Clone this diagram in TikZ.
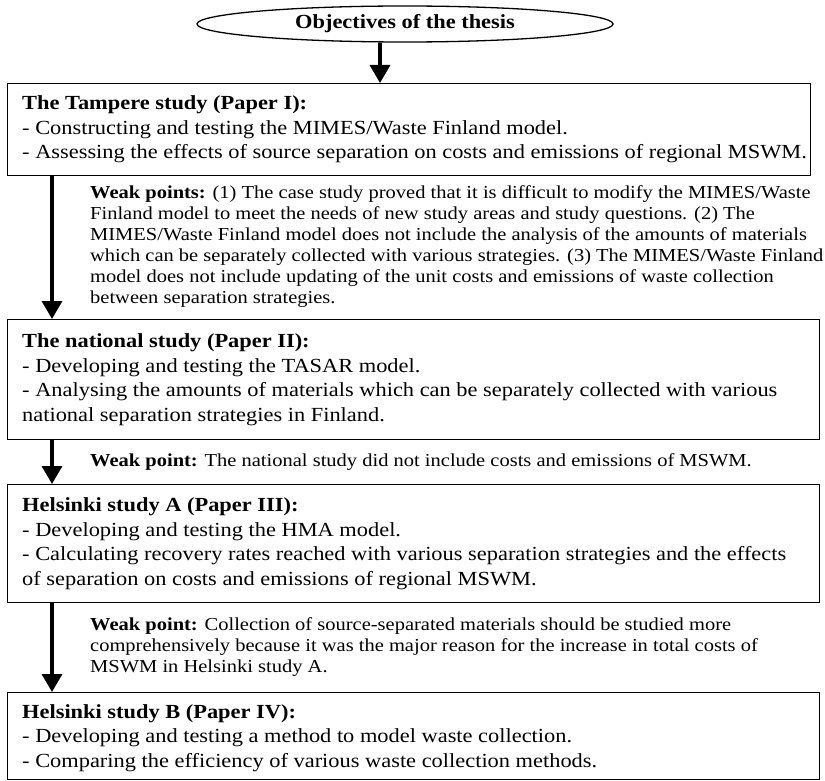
\documentclass[tikz,border=0pt]{standalone}
\usepackage{fontspec}
\setmainfont{Liberation Serif}[FakeStretch=1.12]
\usetikzlibrary{arrows.meta,shapes.geometric,calc}
\begin{document}
\begin{tikzpicture}[x=1pt,y=-1pt,
  box/.style={draw, line width=1.3pt, rectangle, anchor=north west, inner sep=0pt},
  boxtext/.style={anchor=west, align=left, inner sep=0pt, font=\fontsize{20.0}{24.5}\selectfont},
  weak/.style={anchor=west, align=left, inner sep=0pt, font=\fontsize{18.3}{21}\selectfont},
  arr/.style={line width=3.5pt, -{Triangle[width=20pt,length=18pt]}},
  goal/.style={draw, ellipse, line width=1.3pt, minimum width=416pt, minimum height=36pt, inner sep=0pt, font=\fontsize{20.0}{24}\selectfont\bfseries}]
\path[use as bounding box, fill=white] (0,0) rectangle (825,781);

\node[goal] (e) at (405,24) {Objectives of the thesis};

\node[box, minimum width=803pt, minimum height=92pt] (b1) at (7,83) {};
\node[box, minimum width=812pt, minimum height=120pt] (b2) at (7,319) {};
\node[box, minimum width=812pt, minimum height=118pt] (b3) at (7,484) {};
\node[box, minimum width=812pt, minimum height=87pt] (b4) at (7,692) {};

\node[boxtext] (t1) at ([xshift=15pt]b1.west) {\textbf{The Tampere study (Paper I):}\\
- Constructing and testing the MIMES/Waste Finland model.\\
- Assessing the effects of source separation on costs and emissions of regional MSWM.};

\node[boxtext] (t2) at ([xshift=15pt]b2.west) {\textbf{The national study (Paper II):}\\
- Developing and testing the TASAR model.\\
- Analysing the amounts of materials which can be separately collected with various\\
national separation strategies in Finland.};

\node[boxtext] (t3) at ([xshift=15pt]b3.west) {\textbf{Helsinki study A (Paper III):}\\
- Developing and testing the HMA model.\\
- Calculating recovery rates reached with various separation strategies and the effects\\
of separation on costs and emissions of regional MSWM.};

\node[boxtext] (t4) at ([xshift=15pt,yshift=-2pt]b4.west) {\textbf{Helsinki study B (Paper IV):}\\
- Developing and testing a method to model waste collection.\\
- Comparing the efficiency of various waste collection methods.};

\node[weak] (w1) at (90,247) {\textbf{Weak points:} (1) The case study proved that it is difficult to modify the MIMES/Waste\\
Finland model to meet the needs of new study areas and study questions. (2) The\\
MIMES/Waste Finland model does not include the analysis of the amounts of materials\\
which can be separately collected with various strategies. (3) The MIMES/Waste Finland\\
model does not include updating of the unit costs and emissions of waste collection\\
between separation strategies.};

\node[weak] (w2) at (90,462) {\textbf{Weak point:} The national study did not include costs and emissions of MSWM.};

\node[weak] (w3) at (90,647) {\textbf{Weak point:} Collection of source-separated materials should be studied more\\
comprehensively because it was the major reason for the increase in total costs of\\
MSWM in Helsinki study A.};

\coordinate (c0) at (380,0);
\coordinate (ax) at (52,0);
\draw[arr] (e.south -| c0) -- (b1.north -| c0);
\draw[arr] (b1.south -| ax) -- (b2.north -| ax);
\draw[arr] (b2.south -| ax) -- (b3.north -| ax);
\draw[arr] (b3.south -| ax) -- (b4.north -| ax);
\end{tikzpicture}
\end{document}
